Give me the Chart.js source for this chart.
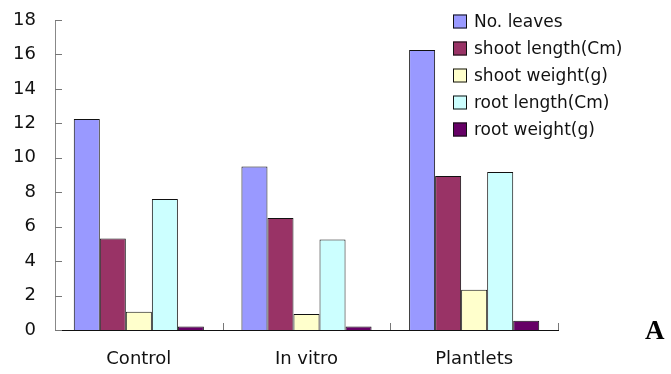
<!DOCTYPE html>
<html>
<head>
<meta charset="utf-8">
<script src="https://cdn.jsdelivr.net/npm/chart.js@4/dist/chart.umd.min.js"></script>
<style>
  html, body { margin: 0; padding: 0; background: #fff; }
  #wrap { width: 671px; height: 374px; position: relative; }
</style>
</head>
<body>
<div id="wrap"><canvas id="c" width="671" height="374"></canvas></div>
<script>
const categories = ['Control', 'In vitro', 'Plantlets'];
const seriesNames = ['No. leaves', 'shoot length(Cm)', 'shoot weight(g)', 'root length(Cm)', 'root weight(g)'];
const noLeaves    = [12.25, 9.5, 16.26];
const shootLength = [5.32, 6.5, 8.94];
const shootWeight = [1.06, 0.93, 2.34];
const rootLength  = [7.61, 5.25, 9.18];
const rootWeight  = [0.21, 0.21, 0.54];
const yTicks = [0, 2, 4, 6, 8, 10, 12, 14, 16, 18];
const colors = ['#9999FF', '#993366', '#FFFFCC', '#CCFFFF', '#660066'];

const FONT = '"DejaVu Sans", Verdana, sans-serif';
const values = [noLeaves, shootLength, shootWeight, rootLength, rootWeight];

// Inward tick marks on both axes, plus the panel letter and legend
const decorations = {
  id: 'decorations',
  afterDraw(chart) {
    const ctx = chart.ctx;
    const x = chart.scales.x, y = chart.scales.y;
    const area = chart.chartArea;
    ctx.save();
    ctx.strokeStyle = '#777';
    ctx.lineWidth = 1;
    yTicks.forEach(v => {
      const py = Math.round(y.getPixelForValue(v)) + 0.5;
      ctx.beginPath();
      ctx.moveTo(area.left, py);
      ctx.lineTo(area.left + 7, py);
      ctx.stroke();
    });
    for (let i = 1; i <= categories.length; i++) {
      const px = Math.round(x.left + (x.right - x.left) * i / categories.length) + 0.5;
      ctx.beginPath();
      ctx.moveTo(px, area.bottom);
      ctx.lineTo(px, area.bottom - 7);
      ctx.stroke();
    }
    // legend
    const lx = 453, ly0 = 14.5, step = 27, box = 14;
    ctx.font = '17px ' + FONT;
    ctx.textBaseline = 'middle';
    ctx.textAlign = 'left';
    chart.data.datasets.forEach((ds, i) => {
      const top = ly0 + i * step;
      ctx.fillStyle = ds.backgroundColor;
      ctx.fillRect(lx, top, box, box);
      ctx.strokeStyle = '#111';
      ctx.strokeRect(lx + 0.5, top + 0.5, box - 1, box - 1);
      ctx.fillStyle = '#111';
      ctx.fillText(ds.label, lx + 21, top + box / 2 + 1);
    });
    // panel letter
    ctx.font = 'bold 27px "Liberation Serif", "DejaVu Serif", serif';
    ctx.fillStyle = '#000';
    ctx.textAlign = 'left';
    ctx.textBaseline = 'alphabetic';
    ctx.fillText('A', 645, 339);
    ctx.restore();
  }
};

new Chart(document.getElementById('c'), {
  type: 'bar',
  data: {
    labels: categories,
    datasets: seriesNames.map((name, i) => ({
      label: name,
      data: values[i],
      backgroundColor: colors[i],
      borderColor: '#111',
      borderWidth: 1,
      borderSkipped: 'bottom',
      categoryPercentage: 0.776,
      barPercentage: 1.0
    }))
  },
  options: {
    responsive: false,
    animation: false,
    devicePixelRatio: 1,
    layout: { padding: { left: 0, top: 20, right: 113, bottom: 0 } },
    plugins: {
      legend: { display: false },
      tooltip: { enabled: false }
    },
    scales: {
      x: {
        grid: { display: false, drawTicks: false },
        border: { display: true, color: '#111', width: 1 },
        ticks: { color: '#111', font: { family: FONT, size: 18 }, padding: 19, maxRotation: 0 },
        afterFit(s) { s.height = 44; }
      },
      y: {
        min: 0,
        max: 18,
        afterBuildTicks(s) { s.ticks = yTicks.map(v => ({ value: v })); },
        grid: { display: false, drawTicks: false },
        border: { display: true, color: '#888', width: 1 },
        ticks: { color: '#111', font: { family: FONT, size: 18 }, padding: 19 },
        afterFit(s) {
          s.width = 55;
          s.paddingTop = 10;
          s.paddingBottom = 10;
        }
      }
    }
  },
  plugins: [decorations]
});
</script>
</body>
</html>
